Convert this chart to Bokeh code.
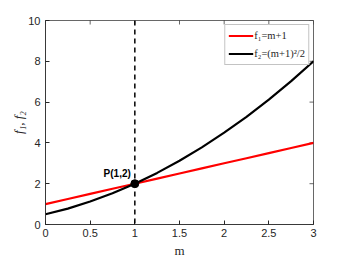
import math
from bokeh.plotting import figure
from bokeh.models import Range1d, Legend, LegendItem, Span, Label, FixedTicker
from bokeh.embed import file_html
from bokeh.resources import INLINE

# data
m = [0, 0.25, 0.5, 0.75, 1.0, 1.25, 1.5, 1.75, 2.0, 2.25, 2.5, 2.75, 3.0]
f1 = [1.0, 1.25, 1.5, 1.75, 2.0, 2.25, 2.5, 2.75, 3.0, 3.25, 3.5, 3.75, 4.0]
f2 = [0.5, 0.78, 1.125, 1.53, 2.0, 2.53, 3.125, 3.78, 4.5, 5.28, 6.125, 7.03, 8.0]
px, py = [1.0], [2.0]
xticks = [0, 0.5, 1, 1.5, 2, 2.5, 3]
yticks = [0, 2, 4, 6, 8, 10]
xmin, xmax, ymin, ymax = 0, 3, 0, 10

AX = "#262626"

p = figure(width=346, height=260, output_backend="svg", toolbar_location=None,
           x_range=Range1d(xmin, xmax), y_range=Range1d(ymin, ymax),
           min_border_left=45, min_border_right=33, min_border_top=20, min_border_bottom=34)
p.background_fill_color = "white"
p.border_fill_color = "white"
p.outline_line_color = AX
p.outline_line_width = 1
p.outline_line_alpha = 0.7
p.xgrid.grid_line_color = None
p.ygrid.grid_line_color = None

for ax, ticks in ((p.xaxis[0], xticks), (p.yaxis[0], yticks)):
    ax.ticker = FixedTicker(ticks=ticks)
    ax.major_tick_in = 4
    ax.major_tick_out = 0
    ax.minor_tick_line_color = None
    ax.axis_line_color = AX
    ax.axis_line_alpha = 0.7
    ax.major_tick_line_color = AX
    ax.major_label_text_font = "Liberation Sans"
    ax.major_label_text_font_size = "11px"
    ax.major_label_text_color = AX
    ax.axis_label_text_font = "Liberation Serif"
    ax.axis_label_text_font_size = "13px"
    ax.axis_label_text_color = AX

p.xaxis[0].major_label_overrides = {0: "0", 0.5: "0.5", 1: "1", 1.5: "1.5", 2: "2", 2.5: "2.5", 3: "3"}
p.xaxis[0].major_label_standoff = 4
p.xaxis[0].axis_label = "m"
p.xaxis[0].axis_label_text_font_style = "normal"
p.xaxis[0].axis_label_standoff = 3
p.yaxis[0].axis_label = "f\u2081, f\u2082"
p.yaxis[0].axis_label_text_font_style = "italic"
p.yaxis[0].axis_label_standoff = -1
p.yaxis[0].major_label_standoff = 5

# inward ticks on the top and right edges of the box
p.scatter(xticks, [ymax] * len(xticks), marker="dash", angle=math.pi / 2, size=8,
          line_color=AX, line_alpha=0.7, line_width=1)
p.scatter([xmax] * len(yticks), yticks, marker="dash", size=8,
          line_color=AX, line_alpha=0.7, line_width=1)

p.add_layout(Span(location=1, dimension="height", line_color="black",
                  line_dash="5 4", line_width=1.5))

r1 = p.line(m, f1, line_color="#ff0000", line_width=2.2)
r2 = p.line(m, f2, line_color="black", line_width=2.2)
p.scatter(px, py, size=8, fill_color="black", line_color="black")

p.add_layout(Label(x=0.65, y=2.22, text="P(1,2)", text_font="Liberation Sans",
                   text_font_style="bold", text_font_size="10px", text_color="black"))

legend = Legend(items=[LegendItem(label="f\u2081=m+1", renderers=[r1]),
                       LegendItem(label="f\u2082=(m+1)\u00b2/2", renderers=[r2])],
                location="top_right")
legend.margin = 4
legend.padding = 3
legend.spacing = 3
legend.glyph_width = 25
legend.glyph_height = 15
legend.label_standoff = 1
legend.label_text_font = "Liberation Serif"
legend.label_text_font_size = "10.5px"
legend.label_text_color = AX
legend.border_line_color = "#888888"
legend.border_line_width = 1
legend.background_fill_color = "white"
legend.background_fill_alpha = 1
p.add_layout(legend, "center")

open("out.html", "w").write(file_html(p, INLINE))
